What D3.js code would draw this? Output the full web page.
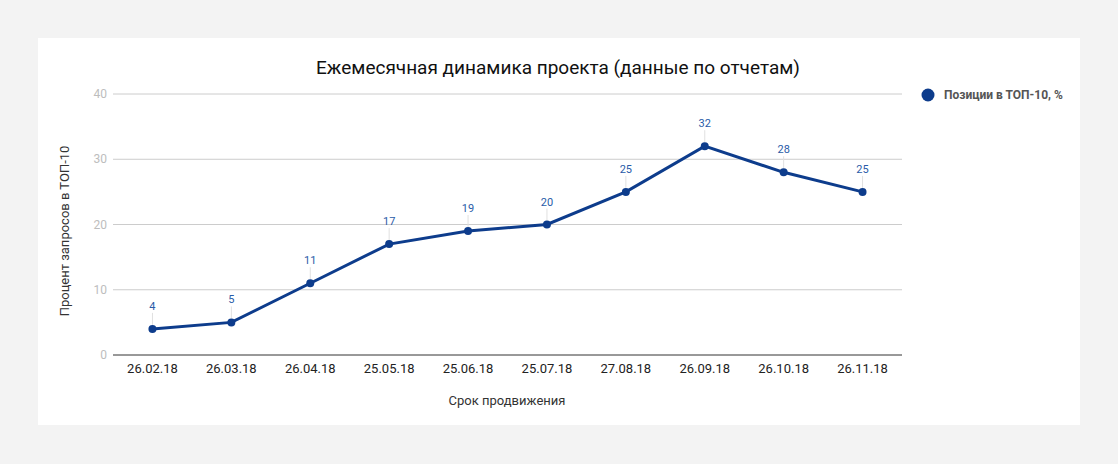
<!DOCTYPE html>
<html><head><meta charset="utf-8">
<script src="https://cdn.jsdelivr.net/npm/d3@7"></script>
<style>body{margin:0;background:#f3f3f3;font-family:Roboto,sans-serif}</style>
</head><body><div id="chart"></div>
<script>
const dates = ["26.02.18","26.03.18","26.04.18","25.05.18","25.06.18","25.07.18","27.08.18","26.09.18","26.10.18","26.11.18"];
const values = [4,5,11,17,19,20,25,32,28,25];
const yTicks = [0,10,20,30,40];
const seriesName = "Позиции в ТОП-10, %";

const W = 1118, H = 464;
const svg = d3.select("#chart").append("svg").attr("width", W).attr("height", H);
svg.append("rect").attr("width", W).attr("height", H).attr("fill", "#f3f3f3");
svg.append("rect").attr("x", 38).attr("y", 38).attr("width", 1042).attr("height", 387).attr("fill", "#fff");

const plotLeft = 113, plotRight = 902, plotTop = 94, plotBottom = 355;
const x = d3.scalePoint().domain(dates).range([plotLeft, plotRight]).padding(0.5);
const y = d3.scaleLinear().domain([0, 40]).range([plotBottom, plotTop]);
const color = "#0d3c8c";

// grid
svg.append("g").selectAll("line").data(yTicks.filter(d => d > 0)).join("line")
  .attr("x1", plotLeft).attr("x2", plotRight).attr("y1", y).attr("y2", y)
  .attr("stroke", "#cccccc");
svg.append("line").attr("x1", plotLeft).attr("x2", plotRight).attr("y1", plotBottom).attr("y2", plotBottom)
  .attr("stroke", "#333");

svg.append("g").selectAll("text").data(yTicks).join("text")
  .attr("x", plotLeft - 6).attr("y", d => y(d) + 4).attr("text-anchor", "end")
  .attr("font-size", 12).attr("fill", "#bdbdbd").text(d => d);

svg.append("g").selectAll("text").data(dates).join("text")
  .attr("x", d => x(d)).attr("y", plotBottom + 18).attr("text-anchor", "middle")
  .attr("font-size", 13).attr("fill", "#222").text(d => d);

svg.append("text").attr("x", 507).attr("y", 405).attr("text-anchor", "middle")
  .attr("font-size", 13).attr("fill", "#333").text("Срок продвижения");
svg.append("text").attr("transform", "translate(69,231) rotate(-90)").attr("text-anchor", "middle")
  .attr("font-size", 13).attr("fill", "#333").text("Процент запросов в ТОП-10");
svg.append("text").attr("x", 558).attr("y", 74).attr("text-anchor", "middle")
  .attr("font-size", 19).attr("fill", "#111").text("Ежемесячная динамика проекта (данные по отчетам)");

const pts = dates.map((d, i) => ({d, v: values[i]}));
// leader lines
svg.append("g").selectAll("line").data(pts).join("line")
  .attr("x1", p => x(p.d)).attr("x2", p => x(p.d))
  .attr("y1", p => y(p.v) - 4).attr("y2", p => y(p.v) - 16)
  .attr("stroke", "#e0e0e0");
svg.append("path").datum(pts)
  .attr("d", d3.line().x(p => x(p.d)).y(p => y(p.v)))
  .attr("fill", "none").attr("stroke", color).attr("stroke-width", 3);
svg.append("g").selectAll("circle").data(pts).join("circle")
  .attr("cx", p => x(p.d)).attr("cy", p => y(p.v)).attr("r", 4).attr("fill", color);
svg.append("g").selectAll("text").data(pts).join("text")
  .attr("x", p => x(p.d)).attr("y", p => y(p.v) - 19).attr("text-anchor", "middle")
  .attr("font-size", 11).attr("fill", "#2a5ca8").text(p => p.v);

// legend
svg.append("circle").attr("cx", 928).attr("cy", 95).attr("r", 6.5).attr("fill", color);
svg.append("text").attr("x", 944).attr("y", 99).attr("font-size", 12).attr("font-weight", "bold")
  .attr("fill", "#555").text(seriesName);
</script></body></html>
